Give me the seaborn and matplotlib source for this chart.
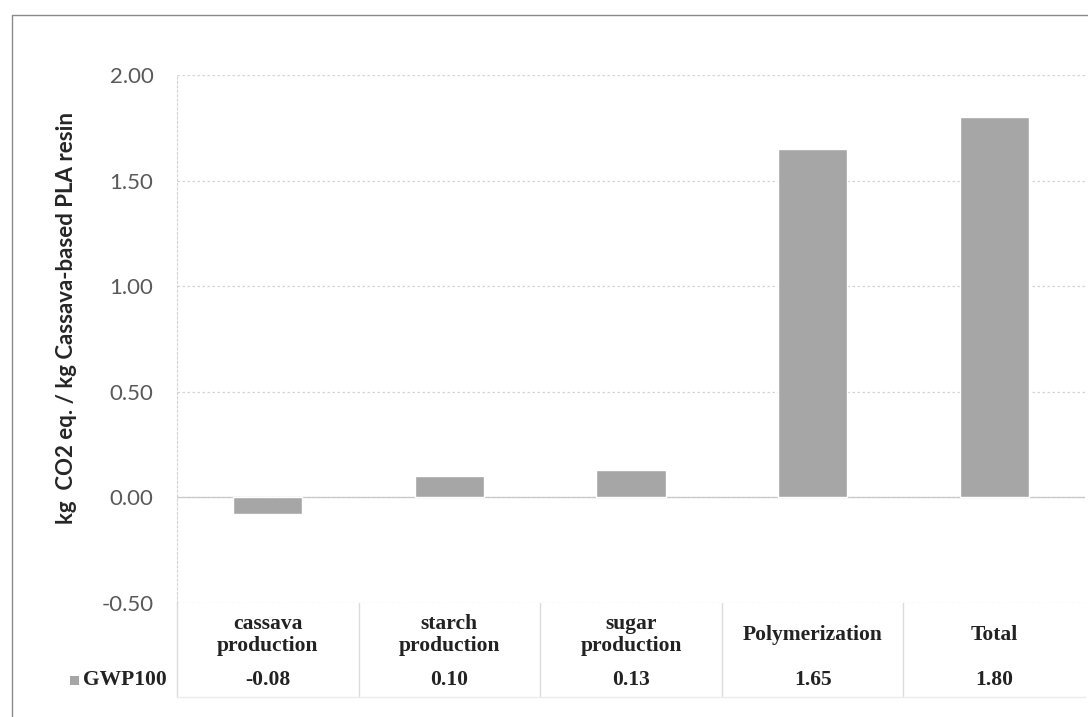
import seaborn as sns
import matplotlib.pyplot as plt
import pandas as pd
from matplotlib.patches import Rectangle
from matplotlib.lines import Line2D

stages = ["cassava\nproduction", "starch\nproduction", "sugar\nproduction", "Polymerization", "Total"]
gwp100 = [-0.08, 0.10, 0.13, 1.65, 1.80]
series_name = "GWP100"
yticks = [-0.50, 0.00, 0.50, 1.00, 1.50, 2.00]

df = pd.DataFrame({"stage": stages, "value": gwp100})

sns.set_style("white")
plt.rcParams["font.family"] = ["Lato", "DejaVu Sans"]

bar_color = "#a6a6a6"
grid_color = "#d4d4d4"

fig = plt.figure(figsize=(10.88, 7.17), dpi=100)
ax = fig.add_axes([177 / 1088, 1 - 603 / 717, 908 / 1088, 528 / 717])

sns.barplot(data=df, x="stage", y="value", color=bar_color, width=0.38,
            saturation=1, ax=ax, zorder=3)

ax.set_xlim(-0.5, len(stages) - 0.5)
ax.set_ylim(yticks[0], yticks[-1])
ax.set_yticks(yticks)
ax.set_yticklabels([f"{t:.2f}" for t in yticks], fontsize=16, color="#595959")
ax.tick_params(axis="y", length=0, pad=17)
ax.set_xticks([])
ax.set_xlabel("")
ax.set_ylabel("kg  CO2 eq. / kg Cassava-based PLA resin", fontsize=16,
              fontweight="bold", color="#262626")
ax.yaxis.set_label_coords(-0.110, 0.54)

ax.grid(axis="y", color=grid_color, linestyle=(0, (2, 2)), linewidth=0.9, zorder=0)
for side in ["top", "right", "bottom"]:
    ax.spines[side].set_visible(False)
ax.spines["left"].set_color(grid_color)
ax.spines["left"].set_linestyle((0, (2, 2)))
ax.axhline(0, color="#c8c8c8", linewidth=0.9, zorder=2)

# data table under the plot
tr = ax.get_xaxis_transform()
serif = ["Liberation Serif", "DejaVu Serif"]
text_color = "#222222"
for i, (name, val) in enumerate(zip(stages, gwp100)):
    ax.text(i, -0.0606, name, transform=tr, ha="center", va="center",
            fontsize=15.5, fontweight="bold", family=serif, color=text_color,
            linespacing=1.1, clip_on=False)
    ax.text(i, -0.146, f"{val:.2f}", transform=tr, ha="center", va="center",
            fontsize=15.5, fontweight="bold", family=serif, color=text_color,
            clip_on=False)
for b in range(len(stages)):
    ax.add_line(Line2D([b - 0.5, b - 0.5], [0, -0.178], transform=tr,
                       color="#dcdcdc", linewidth=1.0, clip_on=False))
ax.add_line(Line2D([-0.5, len(stages) - 0.5], [-0.178, -0.178], transform=tr,
                   color="#ececec", linewidth=1.0, clip_on=False))

fig.add_artist(Rectangle((70 / 1088, 1 - 685 / 717), 9 / 1088, 9 / 717,
                         transform=fig.transFigure, facecolor=bar_color,
                         edgecolor="none"))
fig.text(83 / 1088, 1 - 680 / 717, series_name, ha="left", va="center",
         fontsize=15.5, fontweight="bold", family=serif, color=text_color)

# outer frame of the scanned chart
fig.add_artist(Line2D([12 / 1088, 1], [1 - 15 / 717, 1 - 15 / 717],
                      transform=fig.transFigure, color="#8a8a8a", linewidth=1.0))
fig.add_artist(Line2D([12 / 1088, 12 / 1088], [0, 1 - 15 / 717],
                      transform=fig.transFigure, color="#8a8a8a", linewidth=1.0))

fig.savefig("out.png", dpi=100)
